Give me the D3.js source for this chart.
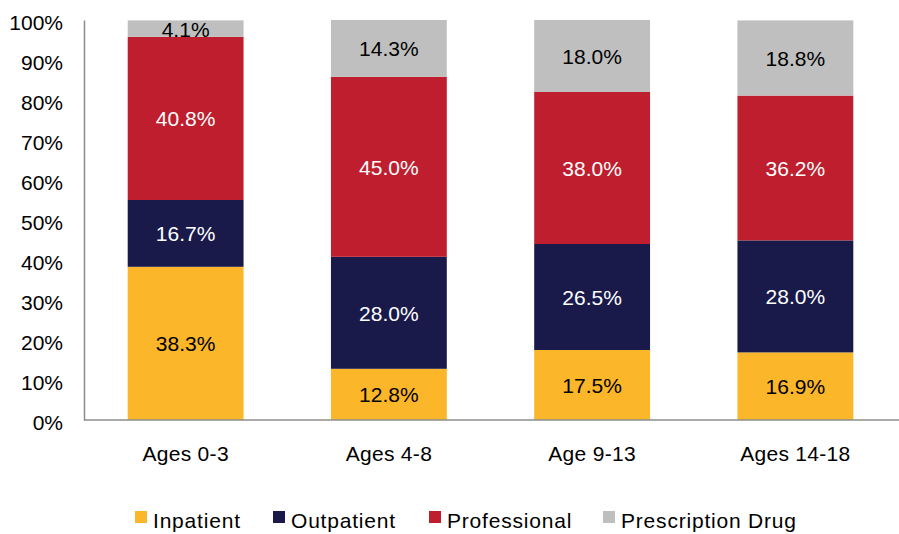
<!DOCTYPE html>
<html>
<head>
<meta charset="utf-8">
<script src="https://cdn.jsdelivr.net/npm/d3@7"></script>
<style>
  html, body { margin: 0; padding: 0; background: #fff; }
  svg text { font-family: "Liberation Sans", Arial, sans-serif; }
</style>
</head>
<body>
<svg id="chart" width="899" height="534"></svg>
<script>
// Share of spending by service type for each age group (percent)
const categories = ["Ages 0-3", "Ages 4-8", "Age 9-13", "Ages 14-18"];
const seriesNames = ["Inpatient", "Outpatient", "Professional", "Prescription Drug"];
const inpatient = [38.3, 12.8, 17.5, 16.9];
const outpatient = [16.7, 28.0, 26.5, 28.0];
const professional = [40.8, 45.0, 38.0, 36.2];
const prescriptionDrug = [4.1, 14.3, 18.0, 18.8];
const yTicks = [0, 10, 20, 30, 40, 50, 60, 70, 80, 90, 100];

const colors = ["#FBB629", "#191A4A", "#BE1E2D", "#BFBFBF"];
const labelColors = ["#000", "#fff", "#fff", "#000"];

const seriesValues = [inpatient, outpatient, professional, prescriptionDrug];
const rows = categories.map((c, i) => {
  const r = { category: c };
  seriesNames.forEach((s, j) => { r[s] = seriesValues[j][i]; });
  return r;
});

const svg = d3.select("#chart");
const margin = { left: 84, right: 2, top: 20, bottom: 114 };
const width = 899, height = 534;
const fontSize = 21;

const x = d3.scaleBand()
  .domain(categories)
  .range([margin.left, width - margin.right])
  .paddingInner(0.43)
  .paddingOuter(0.215);

const y = d3.scaleLinear()
  .domain([0, 100])
  .range([height - margin.bottom, margin.top]);

const stack = d3.stack().keys(seriesNames);
const layers = stack(rows);

// Bars
const g = svg.append("g");
layers.forEach((layer, j) => {
  g.selectAll(null)
    .data(layer)
    .enter()
    .append("rect")
    .attr("x", d => x(d.data.category))
    .attr("width", x.bandwidth())
    .attr("y", d => y(Math.min(d[1], 100)))
    .attr("height", d => y(d[0]) - y(Math.min(d[1], 100)))
    .attr("fill", colors[j]);
});

// Segment value labels
layers.forEach((layer, j) => {
  g.selectAll(null)
    .data(layer)
    .enter()
    .append("text")
    .attr("x", d => x(d.data.category) + x.bandwidth() / 2)
    .attr("y", d => (y(d[0]) + y(Math.min(d[1], 100))) / 2)
    .attr("dy", "0.38em")
    .attr("text-anchor", "middle")
    .attr("font-size", fontSize)
    .attr("fill", labelColors[j])
    .text(d => (d[1] - d[0]).toFixed(1) + "%");
});

// Y axis
const yAxis = d3.axisLeft(y)
  .tickValues(yTicks)
  .tickSize(0)
  .tickPadding(21)
  .tickFormat(d => d + "%");
const yg = svg.append("g")
  .attr("transform", `translate(${margin.left},0)`)
  .call(yAxis);
yg.select(".domain").attr("stroke", "#8C8C8C").attr("stroke-width", 1.5);
yg.selectAll("text")
  .attr("font-size", fontSize)
  .attr("fill", "#000")
  .attr("dy", "0.46em")
  .attr("font-family", "Liberation Sans, Arial, sans-serif");

// X axis
const xAxis = d3.axisBottom(x).tickSize(0).tickPadding(26);
const xg = svg.append("g")
  .attr("transform", `translate(0,${y(0)})`)
  .call(xAxis);
xg.select(".domain")
  .attr("stroke", "#8C8C8C")
  .attr("stroke-width", 1.5)
  .attr("d", `M${margin.left},0H${width}`);
xg.selectAll("text")
  .attr("font-size", fontSize)
  .attr("fill", "#000")
  .attr("letter-spacing", "0.3px")
  .attr("font-family", "Liberation Sans, Arial, sans-serif");

// Legend
const legendX = [135, 273, 429, 603];
const legend = svg.append("g");
seriesNames.forEach((s, j) => {
  legend.append("rect")
    .attr("x", legendX[j])
    .attr("y", 511)
    .attr("width", 12)
    .attr("height", 12)
    .attr("fill", colors[j]);
  legend.append("text")
    .attr("x", legendX[j] + 18)
    .attr("y", 528)
    .attr("font-size", fontSize)
    .attr("letter-spacing", "0.8px")
    .attr("fill", "#000")
    .text(s);
});
</script>
</body>
</html>
